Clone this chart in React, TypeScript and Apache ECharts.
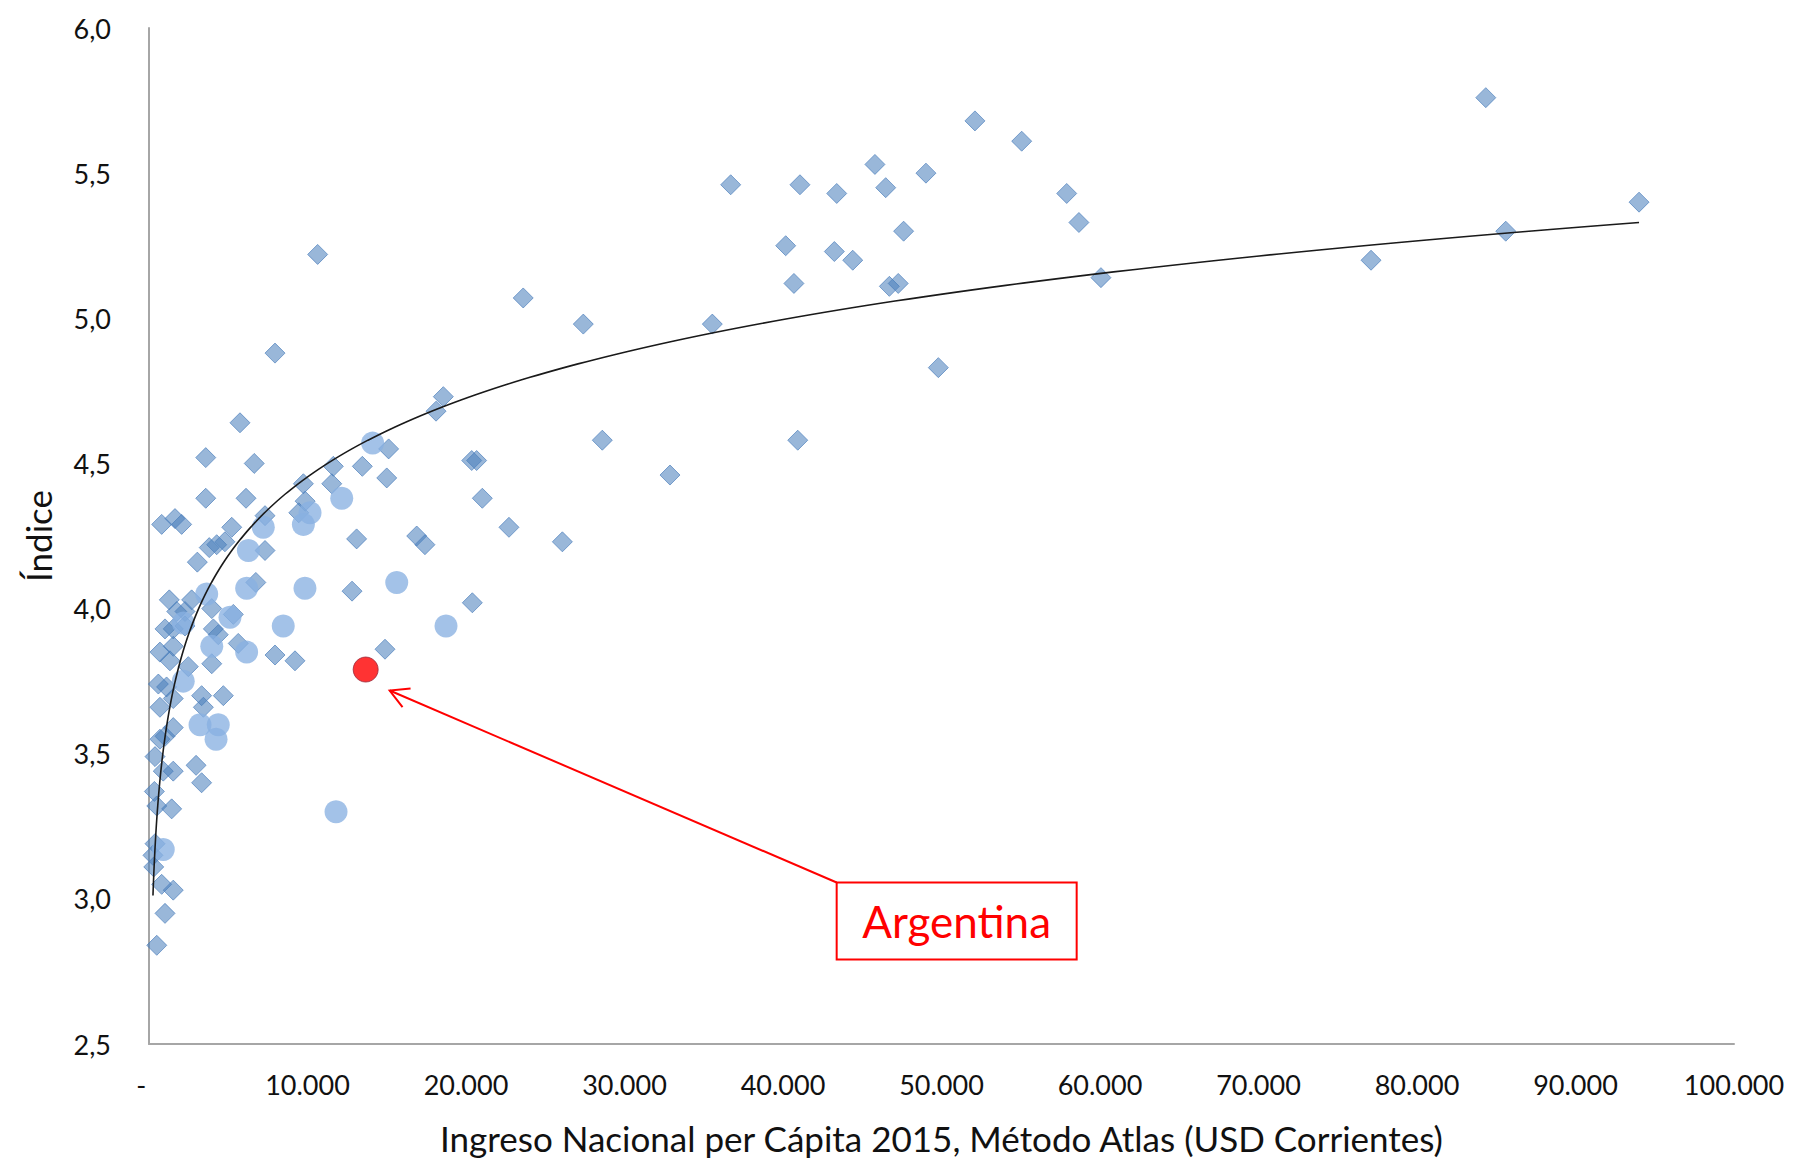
import React, { useEffect, useRef } from 'react';
import * as echarts from 'echarts';

const WIDTH = 1793;
const HEIGHT = 1160;
const FONT = 'Lato, "Open Sans", "Noto Sans", sans-serif';
const TEXT_COLOR = '#111111';

// Countries shown as diamonds: GNI per capita 2015 (Atlas, current USD) and index value
const diamondIncome = [
  84340, 94010, 85600, 77100, 52110, 55060, 57900, 58670, 60060, 45800,
  49020, 46480, 47610, 43390, 41070, 36700, 40170, 43240, 44400, 40690,
  46710, 47270, 49800, 35540, 40930, 32870, 28600, 27400, 23610, 26080,
  22710, 21030, 20360, 20670, 20400, 18570, 18110, 16890, 17410, 15120,
  15000, 13460, 13100, 12810, 14890, 11630, 11530, 10640, 9740, 9850,
  9450, 9210, 7950, 7950, 7320, 7320, 6740, 6640, 6120, 5740,
  5220, 4790, 4270, 3800, 3580, 3580, 3050, 5630, 5320, 3960,
  2690, 1280, 1750, 2270, 1010, 1530, 2270, 4060, 4370, 800,
  1640, 2060, 690, 1530, 1320, 2480, 3960, 590, 1110, 1530,
  3320, 4690, 3430, 690, 1530, 1010, 690, 380, 900, 1530,
  2970, 3320, 340, 490, 1430, 380, 250, 300, 800, 1530,
  1010, 490,
];
const diamondIndex = [
  5.76, 5.40, 5.30, 5.20, 5.68, 5.61, 5.43, 5.33, 5.14, 5.53,
  5.50, 5.45, 5.30, 5.43, 5.46, 5.46, 5.25, 5.23, 5.20, 5.12,
  5.11, 5.12, 4.83, 4.98, 4.58, 4.46, 4.58, 4.98, 5.07, 4.23,
  4.28, 4.38, 4.51, 4.51, 4.02, 4.73, 4.68, 4.25, 4.22, 4.55,
  4.45, 4.49, 4.24, 4.06, 3.86, 4.49, 4.43, 5.22, 4.43, 4.37,
  4.33, 3.82, 3.84, 4.88, 4.32, 4.20, 4.09, 4.50, 4.38, 4.64,
  4.28, 4.23, 4.22, 4.21, 4.52, 4.38, 4.16, 3.88, 3.98, 4.00,
  4.03, 4.03, 3.99, 3.99, 3.93, 3.93, 3.94, 3.93, 3.91, 4.29,
  4.31, 4.29, 3.85, 3.87, 3.82, 3.80, 3.81, 3.74, 3.73, 3.69,
  3.70, 3.70, 3.66, 3.66, 3.59, 3.56, 3.55, 3.49, 3.44, 3.44,
  3.46, 3.40, 3.37, 3.32, 3.31, 3.19, 3.15, 3.11, 3.05, 3.03,
  2.95, 2.84,
];

// Countries shown as round markers
const circleIncome = [
  11800, 900, 3220, 4370, 4230, 2160, 3960, 6160, 8470, 5110,
  2160, 3640, 6160, 9840, 15630, 18740, 6270, 7210, 10160, 9740,
  12160, 14110,
];
const circleIndex = [
  3.30, 3.17, 3.60, 3.60, 3.55, 3.75, 3.87, 3.85, 3.94, 3.97,
  3.95, 4.05, 4.07, 4.07, 4.09, 3.94, 4.20, 4.28, 4.33, 4.29,
  4.38, 4.57,
];

// Highlighted country
const highlightName = 'Argentina';
const highlightIncome = 13670;
const highlightIndex = 3.79;

// Axis ranges and titles
const xMin = 0;
const xMax = 100000;
const xStep = 10000;
const yMin = 2.5;
const yMax = 6.0;
const yStep = 0.5;
const xTitle = 'Ingreso Nacional per Cápita 2015, Método Atlas (USD Corrientes)';
const yTitle = 'Índice';

const pairs = (xs: number[], ys: number[]) => xs.map((x, i) => [x, ys[i]]);

// Least-squares logarithmic trend (y = a·ln x + b) of the diamond series
function logTrend(xs: number[], ys: number[]) {
  const n = xs.length;
  let sx = 0, sy = 0, sxx = 0, sxy = 0;
  for (let i = 0; i < n; i++) {
    const lx = Math.log(xs[i]);
    sx += lx; sy += ys[i]; sxx += lx * lx; sxy += lx * ys[i];
  }
  const a = (n * sxy - sx * sy) / (n * sxx - sx * sx);
  const b = (sy - a * sx) / n;
  return { a, b };
}

// Accounting-style labels: thousands with dots, zero as a dash
const fmtThousands = (v: number) =>
  v === 0 ? '-\u2007' : String(Math.round(v)).replace(/\B(?=(\d{3})+(?!\d))/g, '.');

export default function App() {
  const ref = useRef<HTMLDivElement>(null);

  useEffect(() => {
    const el = ref.current;
    if (!el) return;
    const chart = echarts.init(el, null, { renderer: 'svg' });

    const { a, b } = logTrend(diamondIncome, diamondIndex);
    const lo = Math.min(...diamondIncome);
    const hi = Math.max(...diamondIncome);
    const steps = 300;
    const trend: number[][] = [];
    for (let i = 0; i <= steps; i++) {
      const x = Math.exp(Math.log(lo) + ((Math.log(hi) - Math.log(lo)) * i) / steps);
      trend.push([x, a * Math.log(x) + b]);
    }

    const axisLineStyle = { color: '#A6A6A6', width: 2 };

    chart.setOption({
      animation: false,
      backgroundColor: '#ffffff',
      textStyle: { fontFamily: FONT },
      grid: { left: 149, right: 59, top: 28, bottom: 116, containLabel: false },
      xAxis: {
        type: 'value',
        min: xMin,
        max: xMax,
        interval: xStep,
        axisLine: { show: true, onZero: false, lineStyle: axisLineStyle },
        axisTick: { show: false },
        splitLine: { show: false },
        axisLabel: {
          formatter: fmtThousands,
          fontSize: 27,
          color: TEXT_COLOR,
          margin: 27,
          fontFamily: FONT,
          showMinLabel: true,
          showMaxLabel: true,
        },
        name: xTitle,
        nameLocation: 'middle',
        nameGap: 76,
        nameTextStyle: { fontSize: 35, color: TEXT_COLOR, fontFamily: FONT },
      },
      yAxis: {
        type: 'value',
        min: yMin,
        max: yMax,
        interval: yStep,
        axisLine: { show: true, onZero: false, lineStyle: axisLineStyle },
        axisTick: { show: false },
        splitLine: { show: false },
        axisLabel: {
          formatter: (v: number) => v.toFixed(1).replace('.', ','),
          fontSize: 27,
          color: TEXT_COLOR,
          margin: 38,
          fontFamily: FONT,
          padding: [0, 0, 8, 0],
        },
        name: yTitle,
        nameLocation: 'middle',
        nameRotate: 90,
        nameGap: 94,
        nameTextStyle: { fontSize: 35, color: TEXT_COLOR, fontFamily: FONT },
      },
      series: [
        {
          name: 'diamantes',
          type: 'scatter',
          symbol: 'diamond',
          symbolSize: 20,
          data: pairs(diamondIncome, diamondIndex),
          itemStyle: {
            color: 'rgba(74,126,187,0.70)',
            borderColor: 'rgba(74,126,187,0.85)',
            borderWidth: 1,
          },
          z: 2,
        },
        {
          name: 'círculos',
          type: 'scatter',
          symbol: 'circle',
          symbolSize: 23,
          data: pairs(circleIncome, circleIndex),
          itemStyle: { color: 'rgba(137,177,226,0.97)' },
          z: 3,
        },
        {
          name: highlightName,
          type: 'scatter',
          symbol: 'circle',
          symbolSize: 25,
          data: [[highlightIncome, highlightIndex]],
          itemStyle: { color: '#FF0000', borderColor: '#9b2335', borderWidth: 1 },
          z: 4,
        },
        {
          name: 'tendencia',
          type: 'line',
          data: trend,
          showSymbol: false,
          symbol: 'none',
          smooth: false,
          lineStyle: { color: '#1a1a1a', width: 1.6 },
          z: 5,
        },
      ],
    });

    // Callout for the highlighted country, anchored to its marker
    const [px, py] = chart.convertToPixel({ gridIndex: 0 }, [highlightIncome, highlightIndex]) as number[];
    const tip = [px + 24, py + 21];
    const boxX = px + 471;
    const boxY = py + 213;
    const boxW = 240;
    const boxH = 77;
    const dx = boxX - tip[0];
    const dy = boxY - tip[1];
    const len = Math.hypot(dx, dy);
    const ux = dx / len;
    const uy = dy / len;
    const barb = 21;
    const ang = (29 * Math.PI) / 180;
    const rot = (s: number) => [
      tip[0] + barb * (ux * Math.cos(s * ang) - uy * Math.sin(s * ang)),
      tip[1] + barb * (ux * Math.sin(s * ang) + uy * Math.cos(s * ang)),
    ];

    chart.setOption({
      graphic: [
        {
          type: 'line',
          shape: { x1: tip[0], y1: tip[1], x2: boxX, y2: boxY },
          style: { stroke: '#FF0000', lineWidth: 2 },
          z: 10,
        },
        {
          type: 'polyline',
          shape: { points: [rot(-1), tip, rot(1)] },
          style: { stroke: '#FF0000', lineWidth: 2, fill: null },
          z: 10,
        },
        {
          type: 'rect',
          shape: { x: boxX, y: boxY, width: boxW, height: boxH },
          style: { stroke: '#FF0000', lineWidth: 2, fill: '#ffffff' },
          z: 10,
        },
        {
          type: 'text',
          x: boxX + boxW / 2,
          y: boxY + boxH / 2,
          style: {
            text: highlightName,
            fill: '#FF0000',
            font: `44px ${FONT}`,
            align: 'center',
            verticalAlign: 'middle',
          },
          z: 11,
        },
      ],
    });

    return () => chart.dispose();
  }, []);

  return (
    <div
      ref={ref}
      style={{ position: 'absolute', left: 0, top: 0, width: WIDTH, height: HEIGHT, background: '#ffffff' }}
    />
  );
}
